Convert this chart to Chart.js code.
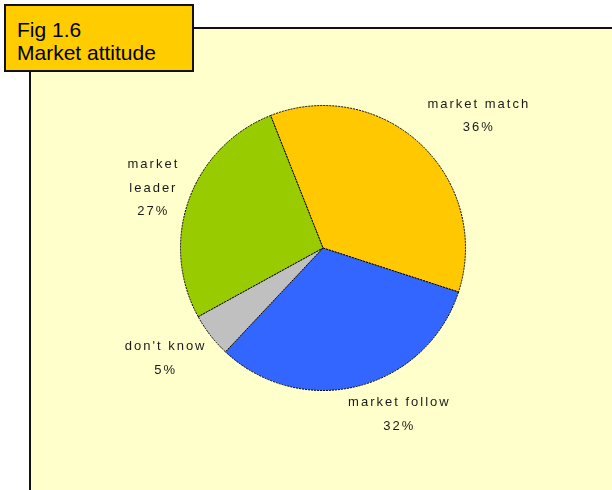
<!DOCTYPE html>
<html lang="en">

<head>
  <meta charset="UTF-8">
  <title>Market attitude</title>
  <script src="https://cdn.jsdelivr.net/npm/chart.js"></script>
  <style>
    body {
      margin: 0;
      width: 612px;
      height: 490px;
      overflow: hidden;
      background: #ffffff;
      position: relative;
      font-family: "Liberation Sans", Arial, sans-serif;
    }

    /* pale plot panel, only top and left edges are visible */
    .panel {
      position: absolute;
      left: 29px;
      top: 27px;
      width: 620px;
      height: 500px;
      background: #ffffcc;
      border: 2px solid #111;
    }

    .fig-title {
      position: absolute;
      left: 4px;
      top: 4px;
      width: 190px;
      height: 68px;
      background: #ffcc00;
      border: 2px solid #111;
      font-size: 21px;
      line-height: 23px;
      color: #000;
      padding: 12px 0 0 11px;
      box-sizing: border-box;
    }

    .chart-box {
      position: absolute;
      left: 0;
      top: 0;
      width: 612px;
      height: 490px;
    }
  </style>
</head>

<body>
  <div class="panel"></div>
  <div class="chart-box">
    <canvas id="attitudeChart" width="612" height="490"></canvas>
  </div>
  <div class="fig-title">Fig 1.6<br>Market attitude</div>

  <script>
    // data
    const categories = [['market match'], ['market follow'], ["don't know"], ['market', 'leader']];
    const shares = [36, 32, 5, 27];
    const sliceColors = ['#ffc800', '#3366ff', '#c0c0c0', '#99cc00'];

    // label placement around the pie: distance from centre and small nudges
    const labelLayout = [
      { dist: 1.30, dx: 28, dy: 3 },
      { dist: 1.28, dx: 30, dy: -10 },
      { dist: 1.30, dx: -12, dy: -3 },
      { dist: 1.28, dx: 1, dy: 2 }
    ];

    // draws the category name and percentage outside each slice
    const outsideLabels = {
      id: 'outsideLabels',
      afterDatasetsDraw(chart) {
        const ctx = chart.ctx;
        const meta = chart.getDatasetMeta(0);
        const total = shares.reduce((a, b) => a + b, 0);
        ctx.save();
        ctx.font = '13px "Liberation Sans", Arial, sans-serif';
        ctx.letterSpacing = '2px';
        ctx.fillStyle = '#1a1a1a';
        ctx.textAlign = 'center';
        ctx.textBaseline = 'middle';
        meta.data.forEach((arc, i) => {
          const p = arc.getProps(['x', 'y', 'startAngle', 'endAngle', 'outerRadius'], true);
          const mid = (p.startAngle + p.endAngle) / 2;
          const lay = labelLayout[i];
          const cx = p.x + Math.cos(mid) * p.outerRadius * lay.dist + lay.dx;
          const cy = p.y + Math.sin(mid) * p.outerRadius * lay.dist + lay.dy;
          const lines = categories[i].concat([Math.round(shares[i] / total * 100) + '%']);
          const lh = 23.5;
          const top = cy - (lines.length - 1) * lh / 2;
          lines.forEach((t, k) => ctx.fillText(t, cx + 1, top + k * lh));
        });
        ctx.restore();
      }
    };

    const ctx = document.getElementById('attitudeChart').getContext('2d');
    const attitudeChart = new Chart(ctx, {
      type: 'pie',
      data: {
        labels: categories.map(c => c.join(' ')),
        datasets: [{
          data: shares,
          backgroundColor: sliceColors,
          borderColor: '#000000',
          borderWidth: 1,
          borderDash: [2, 1]
        }]
      },
      options: {
        responsive: false,
        animation: false,
        rotation: -21.6,
        layout: {
          padding: { left: 151, right: 117, top: 105, bottom: 99 }
        },
        plugins: {
          legend: { display: false },
          tooltip: { enabled: false }
        }
      },
      plugins: [outsideLabels]
    });
  </script>
</body>

</html>
